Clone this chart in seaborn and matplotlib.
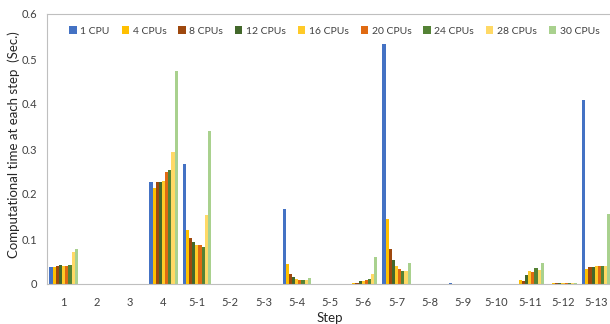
import matplotlib
matplotlib.use("Agg")
import matplotlib.pyplot as plt
import seaborn as sns
import pandas as pd

steps = ["1", "2", "3", "4", "5-1", "5-2", "5-3", "5-4", "5-5", "5-6",
         "5-7", "5-8", "5-9", "5-10", "5-11", "5-12", "5-13"]
cpus = ["1 CPU", "4 CPUs", "8 CPUs", "12 CPUs", "16 CPUs",
        "20 CPUs", "24 CPUs", "28 CPUs", "30 CPUs"]
colors = ["#4472C4", "#FFC000", "#9E480E", "#43682B", "#FFCA28",
          "#E06A12", "#548235", "#FFD966", "#A9D18E"]

# values per CPU setting, one per step
t_1cpu  = [0.037, 0, 0, 0.227, 0.266, 0, 0, 0.166, 0, 0.000, 0.533, 0, 0.002, 0, 0.000, 0.001, 0.410]
t_4cpu  = [0.038, 0, 0, 0.214, 0.120, 0, 0, 0.045, 0, 0.003, 0.144, 0, 0, 0, 0.010, 0.002, 0.034]
t_8cpu  = [0.040, 0, 0, 0.226, 0.102, 0, 0, 0.023, 0, 0.002, 0.077, 0, 0, 0, 0.006, 0.002, 0.037]
t_12cpu = [0.043, 0, 0, 0.227, 0.093, 0, 0, 0.016, 0, 0.006, 0.054, 0, 0, 0, 0.021, 0.002, 0.038]
t_16cpu = [0.041, 0, 0, 0.230, 0.086, 0, 0, 0.012, 0, 0.007, 0.041, 0, 0, 0, 0.029, 0.002, 0.040]
t_20cpu = [0.041, 0, 0, 0.249, 0.086, 0, 0, 0.009, 0, 0.008, 0.034, 0, 0, 0, 0.026, 0.002, 0.040]
t_24cpu = [0.043, 0, 0, 0.253, 0.082, 0, 0, 0.010, 0, 0.012, 0.030, 0, 0, 0, 0.036, 0.002, 0.041]
t_28cpu = [0.071, 0, 0, 0.294, 0.153, 0, 0, 0.009, 0, 0.023, 0.030, 0, 0, 0, 0.031, 0.002, 0.041]
t_30cpu = [0.077, 0, 0, 0.474, 0.339, 0, 0, 0.014, 0, 0.060, 0.046, 0, 0, 0.001, 0.047, 0.002, 0.155]

series = [t_1cpu, t_4cpu, t_8cpu, t_12cpu, t_16cpu, t_20cpu, t_24cpu, t_28cpu, t_30cpu]

rows = []
for cpu, vals in zip(cpus, series):
    for s, v in zip(steps, vals):
        rows.append({"Step": s, "CPU": cpu, "Time": v})
df = pd.DataFrame(rows)

sns.set_theme(style="white")
plt.rcParams["font.family"] = ["Lato", "DejaVu Sans"]

fig = plt.figure(figsize=(6.10, 3.24), dpi=100)
ax = fig.add_axes([47 / 610, 40 / 324, 566 / 610, 270 / 324])

sns.barplot(data=df, x="Step", y="Time", hue="CPU", order=steps, hue_order=cpus,
            palette=colors, width=0.85, linewidth=0, saturation=1, ax=ax,
            errorbar=None)

ax.set_ylim(0, 0.6)
ax.set_xlim(-0.5, len(steps) - 0.5)
ax.set_yticks([0, 0.1, 0.2, 0.3, 0.4, 0.5, 0.6])
ax.set_yticklabels(["0", "0.1", "0.2", "0.3", "0.4", "0.5", "0.6"])
ax.tick_params(axis="both", length=0, labelsize=8, colors="#404040", pad=7)
ax.tick_params(axis="x", pad=9)

for side in ["top", "left", "bottom"]:
    ax.spines[side].set_visible(True)
    ax.spines[side].set_color("#BFBFBF")
    ax.spines[side].set_linewidth(0.8)
ax.spines["right"].set_visible(False)

ax.set_xlabel("Step", fontsize=9.5, color="#262626", labelpad=3)
ax.set_ylabel("")
fig.text(14 / 610, 0.555, "Computational time at each step  (Sec.)", rotation=90,
         ha="center", va="center", fontsize=9.5, color="#262626")

handles, labels = ax.get_legend_handles_labels()
ax.legend(handles, labels, ncol=9, loc="center", bbox_to_anchor=(0.508, 0.937),
          frameon=False, fontsize=7.5, handlelength=0.7, handleheight=0.7,
          handletextpad=0.35, columnspacing=1.15, labelcolor="#404040")

fig.savefig("out.png", dpi=100)
